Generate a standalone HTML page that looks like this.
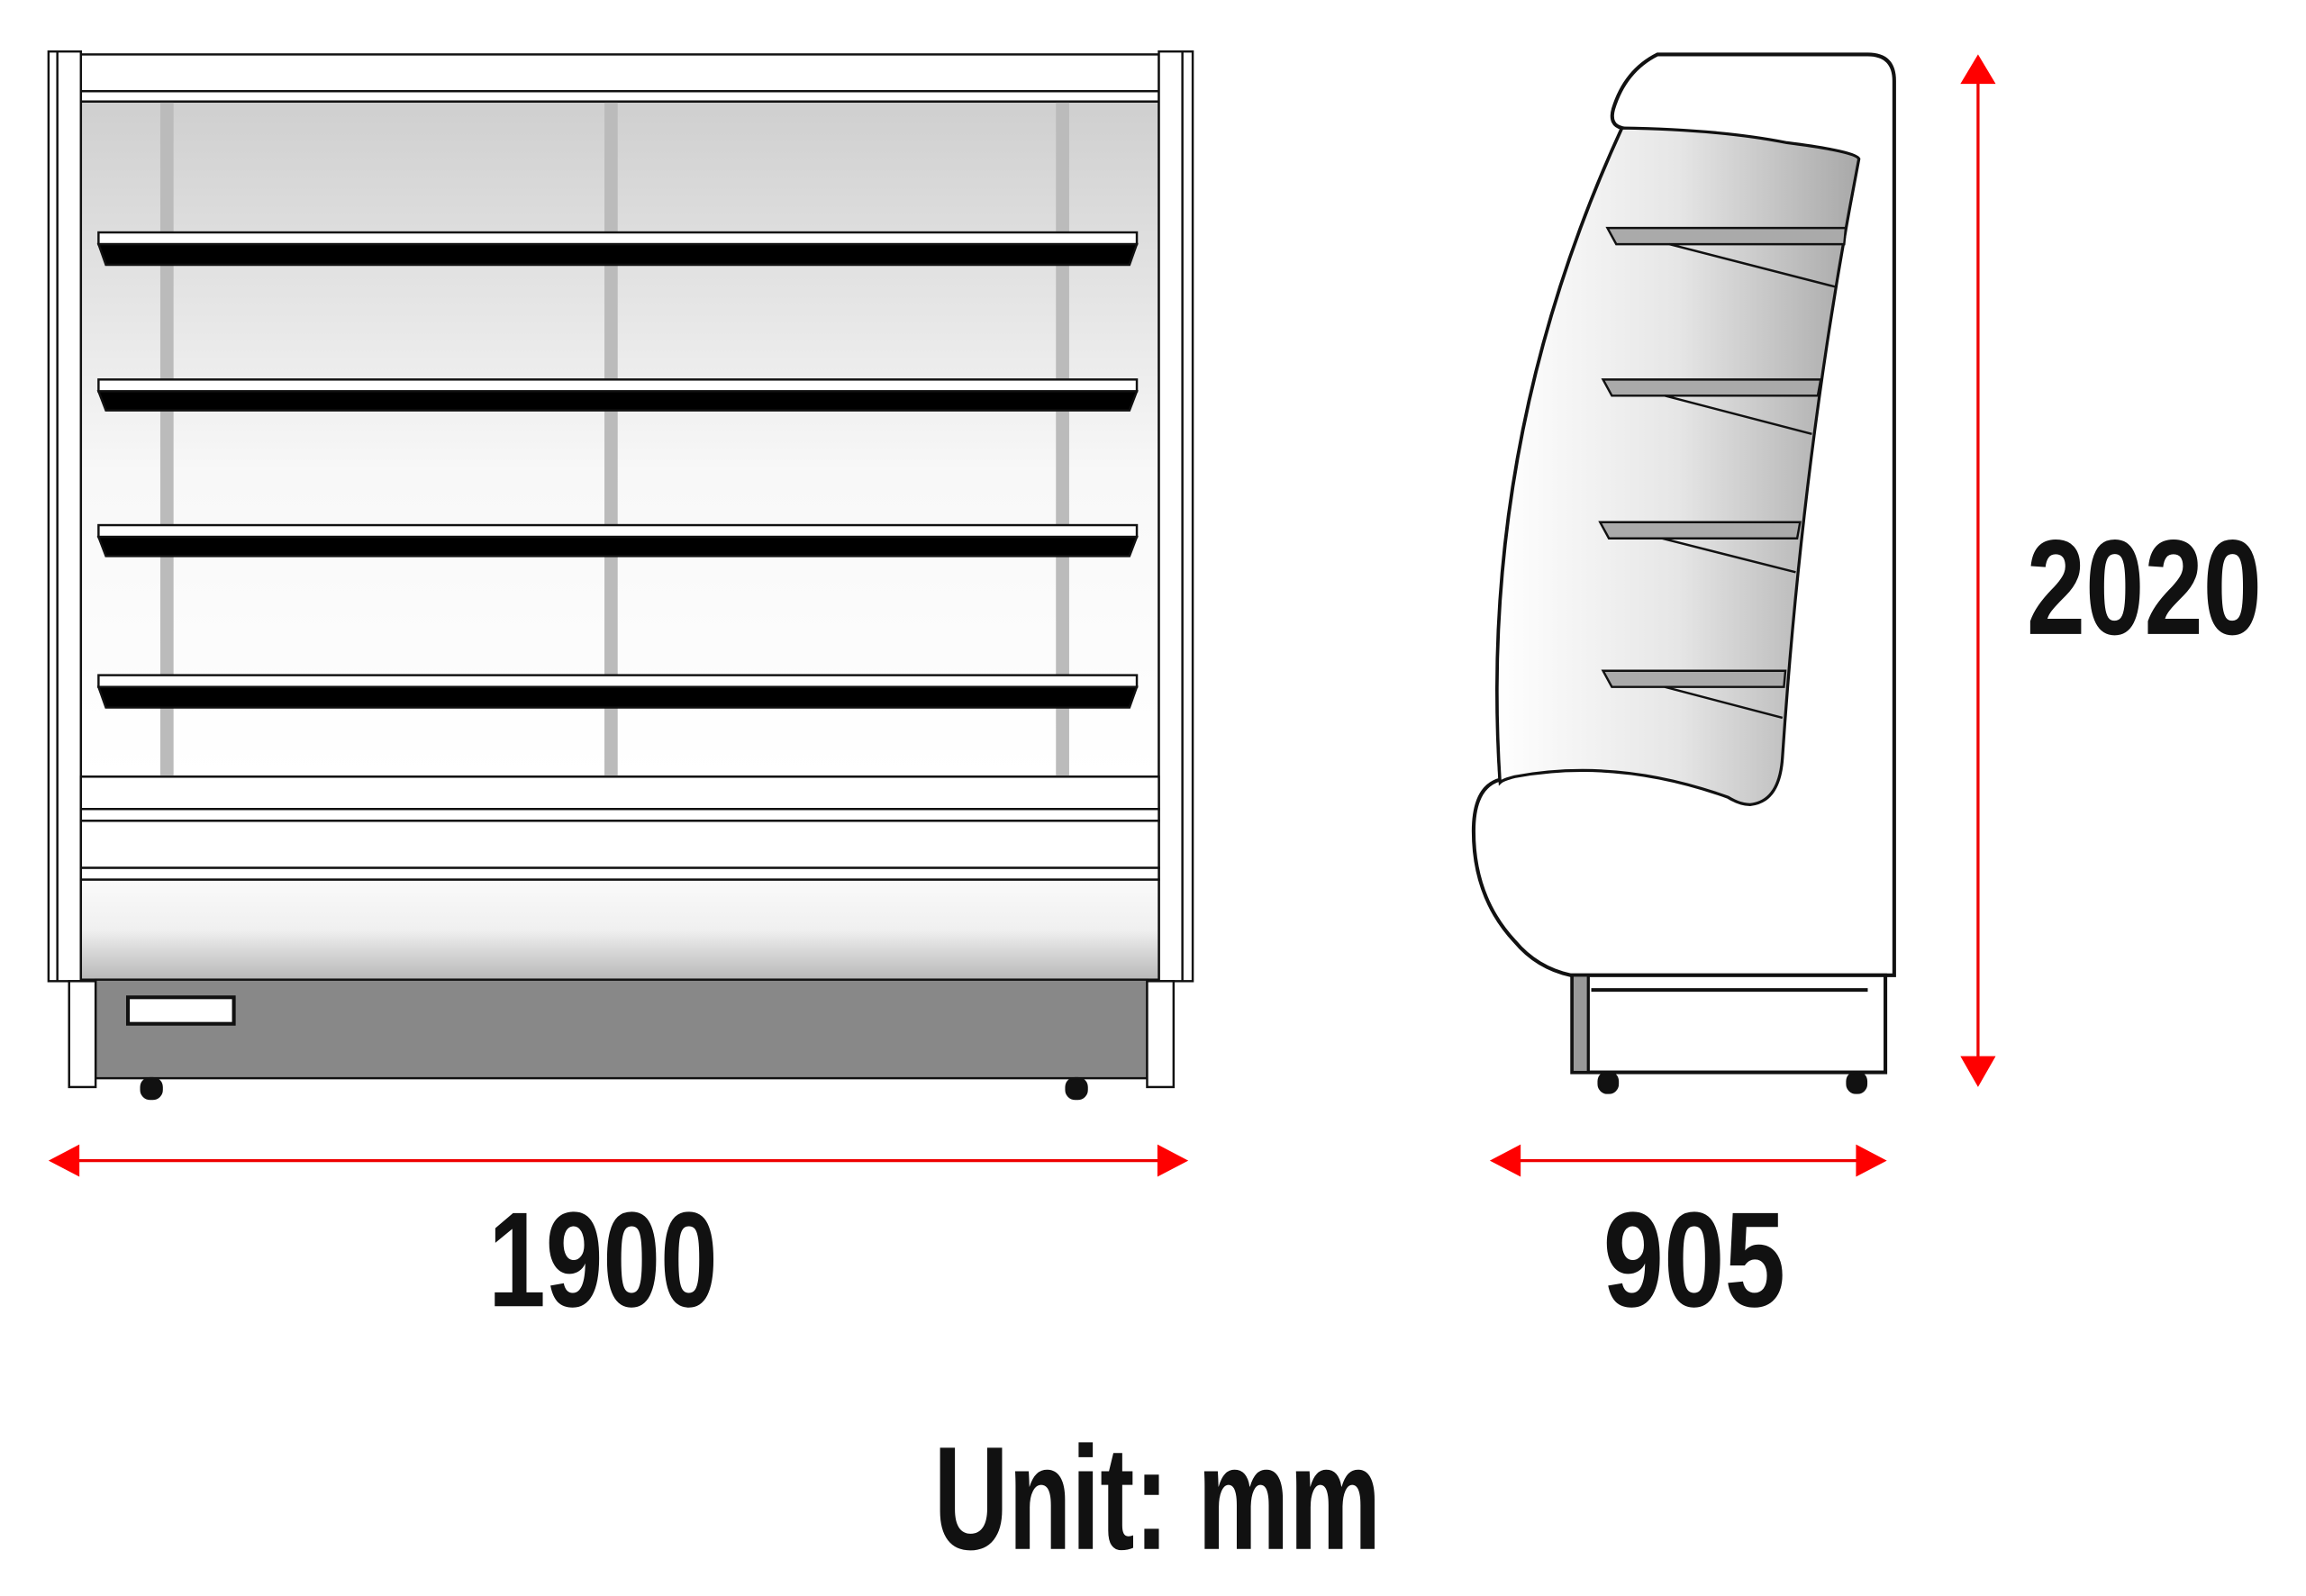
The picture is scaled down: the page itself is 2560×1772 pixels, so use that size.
<!DOCTYPE html>
<html><head><meta charset="utf-8"><style>
html,body{margin:0;padding:0;background:#fff}
svg{display:block}
text{font-family:"Liberation Sans Narrow","Liberation Sans",sans-serif;font-weight:bold;fill:#111}
</style></head><body>
<svg width="2560" height="1772" viewBox="0 0 1568 1085" preserveAspectRatio="none" xmlns="http://www.w3.org/2000/svg">
<defs>
<linearGradient id="gi" x1="0" y1="0" x2="0" y2="1"><stop offset="0" stop-color="#cfcfcf"/><stop offset="0.55" stop-color="#f8f8f8"/><stop offset="1" stop-color="#ffffff"/></linearGradient>
<linearGradient id="gb" x1="0" y1="0" x2="0" y2="1"><stop offset="0" stop-color="#fafafa"/><stop offset="0.5" stop-color="#f0f0f0"/><stop offset="1" stop-color="#b8b8b8"/></linearGradient>
<linearGradient id="gs" x1="0" y1="0" x2="1" y2="0"><stop offset="0" stop-color="#ffffff"/><stop offset="0.5" stop-color="#e6e6e6"/><stop offset="1" stop-color="#a8a8a8"/></linearGradient>
</defs>
<g stroke="#111" stroke-width="1.5">
<rect x="55" y="69" width="733" height="459" fill="url(#gi)"/>
<g fill="#bbb" stroke="none">
<rect x="109" y="69" width="9" height="459"/><rect x="411" y="69" width="9" height="459"/><rect x="718" y="69" width="9" height="459"/>
</g>
<rect x="55" y="37" width="733" height="25" fill="#fff"/>
<rect x="55" y="62" width="733" height="7" fill="#fff"/>
<rect x="33" y="35" width="22" height="632" fill="#fff"/><line x1="39" y1="35" x2="39" y2="667"/>
<rect x="788" y="35" width="23" height="632" fill="#fff"/><line x1="804" y1="35" x2="804" y2="667"/>
<g fill="#fff">
<rect x="67" y="158" width="706" height="8"/><rect x="67" y="258" width="706" height="8"/><rect x="67" y="357" width="706" height="8"/><rect x="67" y="459" width="706" height="8"/>
</g>
<g fill="#000">
<polygon points="67,166 773,166 768,180 72,180"/><polygon points="67,266 773,266 768,279 72,279"/><polygon points="67,365 773,365 768,378 72,378"/><polygon points="67,467 773,467 768,481 72,481"/>
</g>
<rect x="55" y="528" width="733" height="22" fill="#fff"/>
<rect x="55" y="550" width="733" height="8" fill="#fff"/>
<rect x="55" y="558" width="733" height="32" fill="#fff"/>
<rect x="55" y="590" width="733" height="8" fill="#fff"/>
<rect x="55" y="598" width="733" height="68" fill="url(#gb)"/>
<rect x="65" y="666" width="715" height="67" fill="#888"/>
<rect x="47" y="667" width="18" height="72" fill="#fff"/>
<rect x="780" y="667" width="18" height="72" fill="#fff"/>
<rect x="87" y="678" width="72" height="18" fill="#fff" stroke-width="2.5"/>
<rect x="96" y="733" width="14" height="14" rx="6" fill="#111"/>
<rect x="725" y="733" width="14" height="14" rx="6" fill="#111"/>
<!-- side view -->
<path d="M1127,37 L1270,37 Q1288,37 1288,55 L1288,663 L1068,663 Q1045,658 1030,640 Q1002,610 1002,565 Q1002,535 1020,530 Q1005,300 1103,87 Q1094,85 1097,74 Q1105,48 1127,37 Z" fill="#fff" stroke-width="2.5"/>
<path d="M1103,87 Q1170,88 1215,97 Q1262,103 1264,108 L1258,140 Q1225,320 1212,515 Q1210,545 1190,547 Q1183,547 1175,542 Q1100,515 1030,528 Q1022,530 1020,532 Q1005,300 1103,87 Z" fill="url(#gs)" stroke-width="2"/>
<g fill="#aaa">
<polygon points="1093,155 1255,155 1254,166 1099,166"/><polygon points="1090,258 1238,258 1236,269 1096,269"/><polygon points="1088,355 1224,355 1222,366 1094,366"/><polygon points="1090,456 1214,456 1213,467 1096,467"/>
</g>
<g fill="none">
<line x1="1135" y1="166" x2="1248" y2="195"/><line x1="1132" y1="269" x2="1232" y2="295"/><line x1="1130" y1="366" x2="1221" y2="389"/><line x1="1132" y1="467" x2="1212" y2="488"/>
</g>
<rect x="1069" y="663" width="213" height="66" fill="#fff" stroke-width="2.5"/>
<rect x="1069" y="663" width="11" height="66" fill="#999" stroke-width="2"/>
<line x1="1082" y1="673" x2="1270" y2="673" stroke-width="2.5"/>
<rect x="1087" y="729" width="13" height="14" rx="6" fill="#111"/>
<rect x="1256" y="729" width="13" height="14" rx="6" fill="#111"/>
</g>
<g stroke="#e00" stroke-width="2"><line x1="45" y1="789" x2="795" y2="789"/><line x1="1025" y1="789" x2="1270" y2="789"/><line x1="1345" y1="50" x2="1345" y2="725"/></g>
<g fill="#f00">
<polygon points="33,789 54,778 54,800"/><polygon points="808,789 787,778 787,800"/>
<polygon points="1013,789 1034,778 1034,800"/><polygon points="1283,789 1262,778 1262,800"/>
<polygon points="1345,37 1333,57 1357,57"/><polygon points="1345,739 1333,718 1357,718"/>
</g>
<text x="410" y="888" font-size="92" text-anchor="middle" textLength="156" lengthAdjust="spacingAndGlyphs">1900</text>
<text x="1152" y="888" font-size="92" text-anchor="middle" textLength="124" lengthAdjust="spacingAndGlyphs">905</text>
<text x="1458" y="431" font-size="92" text-anchor="middle" textLength="160" lengthAdjust="spacingAndGlyphs">2020</text>
<text x="787" y="1053" font-size="100" text-anchor="middle" textLength="304" lengthAdjust="spacingAndGlyphs">Unit: mm</text>
</svg>
</body></html>
